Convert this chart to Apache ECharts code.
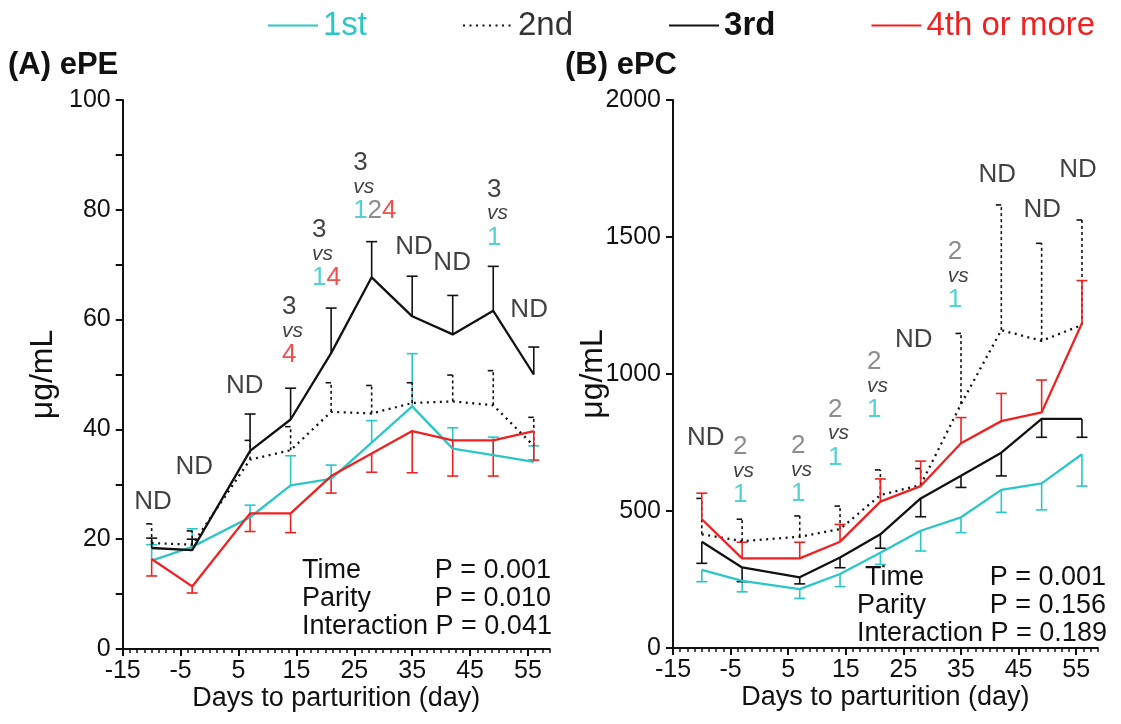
<!DOCTYPE html>
<html><head><meta charset="utf-8">
<script src="https://cdn.jsdelivr.net/npm/echarts@6/dist/echarts.min.js"></script>
<style>html,body{margin:0;padding:0;background:#fff}#c{width:1121px;height:724px}</style>
</head><body><div id="c"></div>
<script>
// ---------- data ----------
const days = [-10, -3, 7, 14, 21, 28, 35, 42, 49, 56];
const xMajorTicks = [-15, -5, 5, 15, 25, 35, 45, 55];
const names = ['1st', '2nd', '3rd', '4th or more'];

// Panel A: ePE (ug/mL) means and SEM
const pe1 = [16.1, 18.6, 24.0, 29.8, 31.0, 37.6, 44.2, 36.5, 35.3, 34.1];
const pe1Sem = [2.9, 3.3, 2.2, 5.4, 2.5, 4.0, 9.6, 3.8, 3.3, 2.9];
const pe2 = [19.3, 19.0, 34.5, 36.2, 43.2, 42.9, 44.8, 45.1, 44.4, 37.0];
const pe2Sem = [3.5, 2.5, 3.5, 4.3, 5.3, 5.1, 3.7, 4.8, 6.3, 5.2];
const pe3 = [18.4, 18.0, 36.1, 41.8, 53.9, 67.7, 60.6, 57.3, 61.6, 50.0];
const pe3Sem = [1.8, 2.0, 6.7, 5.7, 8.2, 6.5, 7.3, 7.1, 8.1, 5.0];
const pe4 = [16.4, 11.4, 24.7, 24.7, 31.5, 35.6, 39.7, 38.0, 38.0, 39.7];
const pe4Sem = [3.1, 1.2, 3.3, 3.5, 3.1, 3.4, 7.6, 6.5, 6.5, 5.3];

// Panel B: ePC (ug/mL) means and SEM
const pc1 = [285, 245, 215, 270, 348, 428, 477, 577, 601, 707];
const pc1Sem = [43, 40, 34, 46, 43, 74, 56, 82, 97, 116];
const pc2 = [415, 390, 406, 434, 558, 595, 890, 1160, 1121, 1179];
const pc2Sem = [131, 80, 76, 84, 92, 60, 258, 457, 356, 383];
const pc3 = [388, 294, 258, 330, 415, 546, 629, 713, 836, 836];
const pc3Sem = [79, 52, 24, 37, 51, 67, 43, 85, 67, 67];
const pc4 = [470, 327, 327, 388, 534, 591, 747, 828, 860, 1185];
const pc4Sem = [95, 59, 59, 63, 83, 91, 94, 101, 118, 156];

// annotations: [day, value, top text, compared groups]
const annA = [
  [-9.75, 26.8, 'ND'], [-2.65, 33.2, 'ND'], [6.1, 47.9, 'ND'],
  [12.5, 57.9, '3', '4'], [17.7, 71.9, '3', '14'], [24.8, 84.1, '3', '124'],
  [35.3, 73.2, 'ND'], [41.9, 70.3, 'ND'], [47.9, 79.3, '3', '1'], [55.2, 61.7, 'ND']
];
const annB = [
  [-9.3, 766, 'ND'], [-4.6, 646, '2', '1'], [5.5, 650, '2', '1'], [11.9, 783, '2', '1'],
  [18.7, 956, '2', '1'], [26.8, 1124, 'ND'], [32.7, 1358, '2', '1'],
  [41.3, 1726, 'ND'], [49.1, 1599, 'ND'], [55.3, 1745, 'ND']
];
const statsA = [['Time', 'P = 0.001'], ['Parity', 'P = 0.010'], ['Interaction P = 0.041', '']];
const statsB = [['Time', 'P = 0.001'], ['Parity', 'P = 0.156'], ['Interaction P = 0.189', '']];

// ---------- style ----------
const FONT = "'Liberation Sans', Arial, Helvetica, sans-serif";
const CYAN = '#2cc6c6', RED = '#ee2222', BLACK = '#111111', GRAY = '#707070';
const colors = [CYAN, BLACK, BLACK, RED];
const lineTypes = ['solid', [2, 4.5], 'solid', 'solid'];

function pts(vals) { return days.map((d, i) => [d, vals[i]]); }
function errPts(vals, sem) { return days.map((d, i) => [d, vals[i], sem[i]]); }

function errRender(dir, color, dashed) {
  return function (params, api) {
    const x = api.value(0), y = api.value(1), s = api.value(2);
    const p0 = api.coord([x, y]);
    const p1 = api.coord([x, y + dir * s]);
    const hw = 5.5;
    const style = { stroke: color, lineWidth: 1.6, lineDash: dashed ? [3, 3] : null, fill: null };
    return {
      type: 'group', children: [
        { type: 'line', shape: { x1: p0[0], y1: p0[1], x2: p1[0], y2: p1[1] }, style: style },
        { type: 'line', shape: { x1: p1[0] - hw, y1: p1[1], x2: p1[0] + (dashed ? 0 : hw), y2: p1[1] }, style: { stroke: color, lineWidth: 1.6 } }
      ]
    };
  };
}

function richBlock(a) {
  if (a.length === 3) return '{nd|' + a[2] + '}';
  return '{g' + a[2] + '|' + a[2] + '}\n{v|vs}\n' + a[3].split('').map(d => '{g' + d + '|' + d + '}').join('');
}
const rich = {
  nd: { fontSize: 26, color: BLACK, fontFamily: FONT },
  v: { fontSize: 21, fontStyle: 'italic', color: BLACK, lineHeight: 24, fontFamily: FONT },
  g1: { fontSize: 26, color: CYAN, lineHeight: 24, fontFamily: FONT },
  g2: { fontSize: 26, color: GRAY, lineHeight: 24, fontFamily: FONT },
  g3: { fontSize: 26, color: BLACK, lineHeight: 24, fontFamily: FONT },
  g4: { fontSize: 26, color: RED, lineHeight: 24, fontFamily: FONT }
};
function annSeries(list, xi, yi) {
  return {
    type: 'scatter', xAxisIndex: xi, yAxisIndex: yi, symbolSize: 1, silent: true,
    itemStyle: { color: 'transparent' }, z: 5,
    data: list.map(a => ({ value: [a[0], a[1]], t: richBlock(a), label: { align: a.length === 3 ? 'center' : 'left' } })),
    label: { show: true, position: 'inside', verticalAlign: 'middle', formatter: p => p.data.t, rich: rich }
  };
}

function lineSeries(vals, k, xi, yi) {
  return {
    name: names[k], type: 'line', xAxisIndex: xi, yAxisIndex: yi, data: pts(vals),
    symbol: 'none', z: 3, animation: false,
    lineStyle: { color: colors[k], width: 2.3, type: lineTypes[k] },
    itemStyle: { color: colors[k] }
  };
}
function errSeries(vals, sem, k, dir, xi, yi) {
  return {
    name: names[k] + ' err', type: 'custom', xAxisIndex: xi, yAxisIndex: yi,
    data: errPts(vals, sem), renderItem: errRender(dir, colors[k], k === 1), z: 2, silent: true
  };
}

function xMajor(gi) {
  return {
    gridIndex: gi, type: 'value', min: -15, max: 58.75, position: 'bottom',
    axisLine: { show: true, onZero: false, lineStyle: { color: BLACK, width: 2 } },
    axisTick: { show: true, customValues: xMajorTicks, length: 7, lineStyle: { color: BLACK, width: 2 } },
    axisLabel: { customValues: xMajorTicks, fontSize: 25, color: BLACK, margin: 10, fontFamily: FONT },
    splitLine: { show: false },
    name: 'Days to parturition (day)', nameLocation: 'middle', nameGap: 36, nameMoveOverlap: false,
    nameTextStyle: { fontSize: 27, color: BLACK, fontFamily: FONT }
  };
}
function xMinor(gi) {
  return {
    gridIndex: gi, type: 'value', min: -15, max: 58.75, interval: 1.25, position: 'bottom',
    axisLine: { show: false, onZero: false },
    axisTick: { show: true, length: 4, lineStyle: { color: BLACK, width: 1.5 } },
    axisLabel: { show: false }, splitLine: { show: false }
  };
}
function yAx(gi, max, interval, minor) {
  return {
    gridIndex: gi, type: 'value', min: 0, max: max, interval: interval, position: 'left',
    axisLine: { show: true, onZero: false, lineStyle: { color: BLACK, width: 2 } },
    axisTick: { show: true, length: 7, lineStyle: { color: BLACK, width: 2 } },
    minorTick: { show: minor, splitNumber: 2, length: 7, lineStyle: { color: BLACK, width: 2 } },
    axisLabel: { fontSize: 25, color: BLACK, margin: 12, fontFamily: FONT, formatter: v => String(v) },
    splitLine: { show: false }, minorSplitLine: { show: false },
    name: 'μg/mL', nameLocation: 'middle', nameGap: 64, nameRotate: 90, nameMoveOverlap: false,
    nameTextStyle: { fontSize: 32, color: BLACK, fontFamily: FONT }
  };
}

function statTexts(list, xl, xr, y0) {
  const out = [];
  list.forEach((r, i) => {
    const y = y0 + i * 28;
    out.push({ type: 'text', style: { text: r[0], x: xl + (i === 0 && xl > 600 ? 8 : 0), y: y, fill: BLACK, font: '27px ' + FONT, align: 'left', verticalAlign: 'middle' } });
    if (r[1]) out.push({ type: 'text', style: { text: r[1], x: xr, y: y, fill: BLACK, font: '27px ' + FONT, align: 'right', verticalAlign: 'middle' } });
  });
  return out;
}

const chart = echarts.init(document.getElementById('c'), null, { renderer: 'canvas' });
chart.setOption({
  animation: false,
  backgroundColor: '#fff',
  textStyle: { fontFamily: FONT },
  legend: {
    top: 4, left: 262, itemWidth: 50, itemHeight: 14, itemGap: 95,
    itemStyle: { opacity: 0 },
    textStyle: { fontSize: 33, fontFamily: FONT },
    data: [
      { name: '1st', textStyle: { color: CYAN } },
      { name: '2nd', textStyle: { color: '#333' } },
      { name: '3rd', textStyle: { color: BLACK, fontWeight: 'bold' } },
      { name: '4th or more', textStyle: { color: RED } }
    ]
  },
  grid: [
    { left: 122.7, top: 100, width: 427, height: 549 },
    { left: 673, top: 100, width: 424.8, height: 548 }
  ],
  xAxis: [xMajor(0), xMinor(0), xMajor(1), xMinor(1)],
  yAxis: [yAx(0, 100, 20, true), yAx(1, 2000, 500, false)],
  graphic: [
    { type: 'text', style: { text: '(A) ePE', x: 8, y: 65, fill: BLACK, font: 'bold 31px ' + FONT, verticalAlign: 'middle' } },
    { type: 'text', style: { text: '(B) ePC', x: 565, y: 65, fill: BLACK, font: 'bold 31px ' + FONT, verticalAlign: 'middle' } }
  ].concat(statTexts(statsA, 302, 551, 571), statTexts(statsB, 857, 1106, 578)),
  series: [
    errSeries(pe1, pe1Sem, 0, 1, 0, 0),
    errSeries(pe2, pe2Sem, 1, 1, 0, 0),
    errSeries(pe3, pe3Sem, 2, 1, 0, 0),
    errSeries(pe4, pe4Sem, 3, -1, 0, 0),
    lineSeries(pe1, 0, 0, 0), lineSeries(pe2, 1, 0, 0), lineSeries(pe3, 2, 0, 0), lineSeries(pe4, 3, 0, 0),
    errSeries(pc1, pc1Sem, 0, -1, 2, 1),
    errSeries(pc2, pc2Sem, 1, 1, 2, 1),
    errSeries(pc3, pc3Sem, 2, -1, 2, 1),
    errSeries(pc4, pc4Sem, 3, 1, 2, 1),
    lineSeries(pc1, 0, 2, 1), lineSeries(pc2, 1, 2, 1), lineSeries(pc3, 2, 2, 1), lineSeries(pc4, 3, 2, 1),
    annSeries(annA, 0, 0),
    annSeries(annB, 2, 1)
  ]
});
</script>
</body></html>
